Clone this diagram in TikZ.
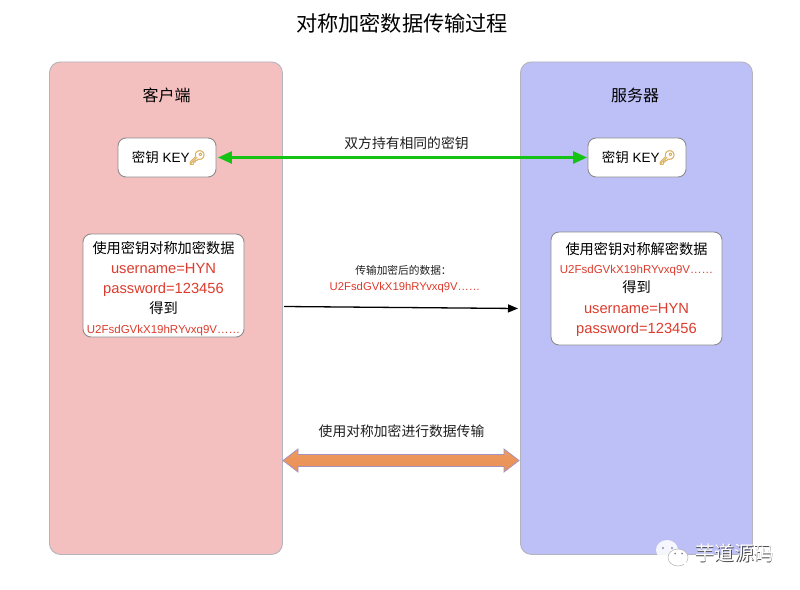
\documentclass[tikz,border=0pt]{standalone}
\usepackage{fontspec}
\setmainfont{Liberation Sans}
\newfontfamily\cjk{Noto Sans CJK SC}
\newfontfamily\emojifont[FakeBold=2.5]{Noto Emoji}
\usetikzlibrary{arrows.meta,calc}
\definecolor{panelred}{HTML}{F4BFBF}
\definecolor{panelblue}{HTML}{BDBFF7}
\definecolor{panelline}{HTML}{B4B4BE}
\definecolor{boxline}{HTML}{8C8C8C}
\definecolor{redtext}{HTML}{DC3C2D}
\definecolor{green1}{HTML}{14C314}
\definecolor{keygold}{HTML}{DDB25E}
\definecolor{orange1}{HTML}{EE9A5E}
\definecolor{orange2}{HTML}{E98F55}
\definecolor{orangeline}{HTML}{A493BE}
\newcommand{\keyglyph}{{\emojifont\textcolor{keygold}{\fontsize{14}{14}\selectfont\symbol{"1F511}}}}
\newcommand{\redbig}[1]{{\normalfont\color{redtext}\fontsize{14.7}{14.7}\selectfont #1}}
\newcommand{\redsmall}[1]{{\normalfont\color{redtext}\fontsize{11.5}{11.5}\selectfont #1}}
\tikzset{
  panel/.style={draw=panelline,line width=0.9pt,rounded corners=11pt,anchor=north west,inner sep=0pt},
  keybox/.style={draw=boxline,fill=white,line width=0.9pt,rounded corners=8pt,minimum width=98pt,minimum height=39pt,inner sep=0pt,font=\fontsize{13.5}{14}\selectfont},
  databox/.style={draw=boxline,fill=white,line width=0.9pt,rounded corners=8pt,inner sep=0pt},
  datatext/.style={inner sep=0pt,align=center,font=\cjk\fontsize{14.2}{20}\selectfont},
  heading/.style={font=\cjk\fontsize{16}{16}\selectfont,inner sep=0pt},
  caption/.style={font=\cjk\fontsize{13.8}{14}\selectfont,inner sep=0pt,text=black!88}
}
\begin{document}
\begin{tikzpicture}[x=1pt,y=1pt]
\useasboundingbox (0,0) rectangle (800,-589);
\fill[white] (0,0) rectangle (800,-589);
\node[inner sep=0pt,font=\cjk\fontsize{21.2}{22}\selectfont] (title) at (402,-23) {对称加密数据传输过程};
\node[panel,fill=panelred,minimum width=233pt,minimum height=492.5pt] (client) at (49,-61.5) {};
\node[panel,fill=panelblue,minimum width=232pt,minimum height=492.5pt] (server) at (520,-61.5) {};
\node[heading] (clienth) at (166.5,-95) {客户端};
\node[heading] (serverh) at (635,-95) {服务器};
\node[keybox] (keyl) at (167,-157.5) {\hspace*{4pt}{\cjk 密钥} KEY\hspace{-1.5pt}\keyglyph};
\node[keybox] (keyr) at (637,-157.5) {\hspace*{4pt}{\cjk 密钥} KEY\hspace{-1.5pt}\keyglyph};
\node[caption] (capgreen) at (406.5,-143) {双方持有相同的密钥};
\coordinate (gl) at ($(keyl.east)+(1.5pt,0)$);
\coordinate (gr) at ($(keyr.west)+(-0.5pt,0)$);
\draw[green1,line width=2.8pt,{Triangle[length=14pt,width=12pt]}-{Triangle[length=14pt,width=12pt]}] (gl) -- (gr);
\node[databox,minimum width=161pt,minimum height=103pt] (datal) at (163.5,-285.5) {};
\node[datatext] (datalt) at (163.5,-288.5) {使用密钥对称加密数据\\\redbig{username=HYN}\\\redbig{password=123456}\\得到\\\redsmall{U2FsdGVkX19hRYvxq9V……}};
\node[databox,minimum width=171pt,minimum height=113pt] (datar) at (636.5,-288.5) {};
\node[datatext] (datart) at (636.5,-289.5) {使用密钥对称解密数据\\[-1pt]\redsmall{U2FsdGVkX19hRYvxq9V……}\\[-1pt]得到\\[1pt]\redbig{username=HYN}\\\redbig{password=123456}};
\node[inner sep=0pt,align=center,font=\cjk\fontsize{10.7}{16}\selectfont,text=black!88] (captrans) at (405,-279.5) {\hspace*{-3pt}传输加密后的数据：\\{\normalfont\color{redtext}\fontsize{11.3}{11.3}\selectfont U2FsdGVkX19hRYvxq9V……}};
\coordinate (bl) at (284,-306.5);
\coordinate (br) at (518,-308.5);
\draw[black,line width=1.3pt,-{Triangle[length=10pt,width=8pt]}] (bl) -- (br);
\node[caption] (capo) at (401.5,-431) {使用对称加密进行数据传输};
\coordinate (ol) at (283,-460.5);
\coordinate (or) at (519,-460.5);
\draw[orangeline,line width=0.8pt,top color=orange1,bottom color=orange2]
  (ol) -- ++(15,11.5) -- ++(0,-5.5) -- ++(206,0) -- ++(0,5.5) -- (or) -- ++(-15,-11.5) -- ++(0,5.5) -- ++(-206,0) -- ++(0,-5.5) -- cycle;
\node[inner sep=0pt,font=\cjk\fontsize{19.6}{20}\selectfont,text=black!70] (wshadow) at (735,-553.7) {芋道源码};
\node[inner sep=0pt,font=\cjk\fontsize{19.6}{20}\selectfont,text=white] (wmark) at (734.4,-553) {芋道源码};
\fill[white,fill opacity=.88] (667,-550) ellipse (11pt and 10pt);
\fill[white,fill opacity=.88] (660,-558) -- (661,-564) -- (667,-559) -- cycle;
\draw[black!30,line width=.5pt,fill=white] (678,-557.5) ellipse (10pt and 8.5pt);
\fill[white] (683,-563) -- (686,-567) -- (686,-560) -- cycle;
\fill[panelblue!75!black] (663,-548) circle (1.2pt) (672,-548) circle (1.2pt);
\fill[black!45] (675,-553.5) circle (1pt) (682,-553.5) circle (1pt);
\end{tikzpicture}
\end{document}
